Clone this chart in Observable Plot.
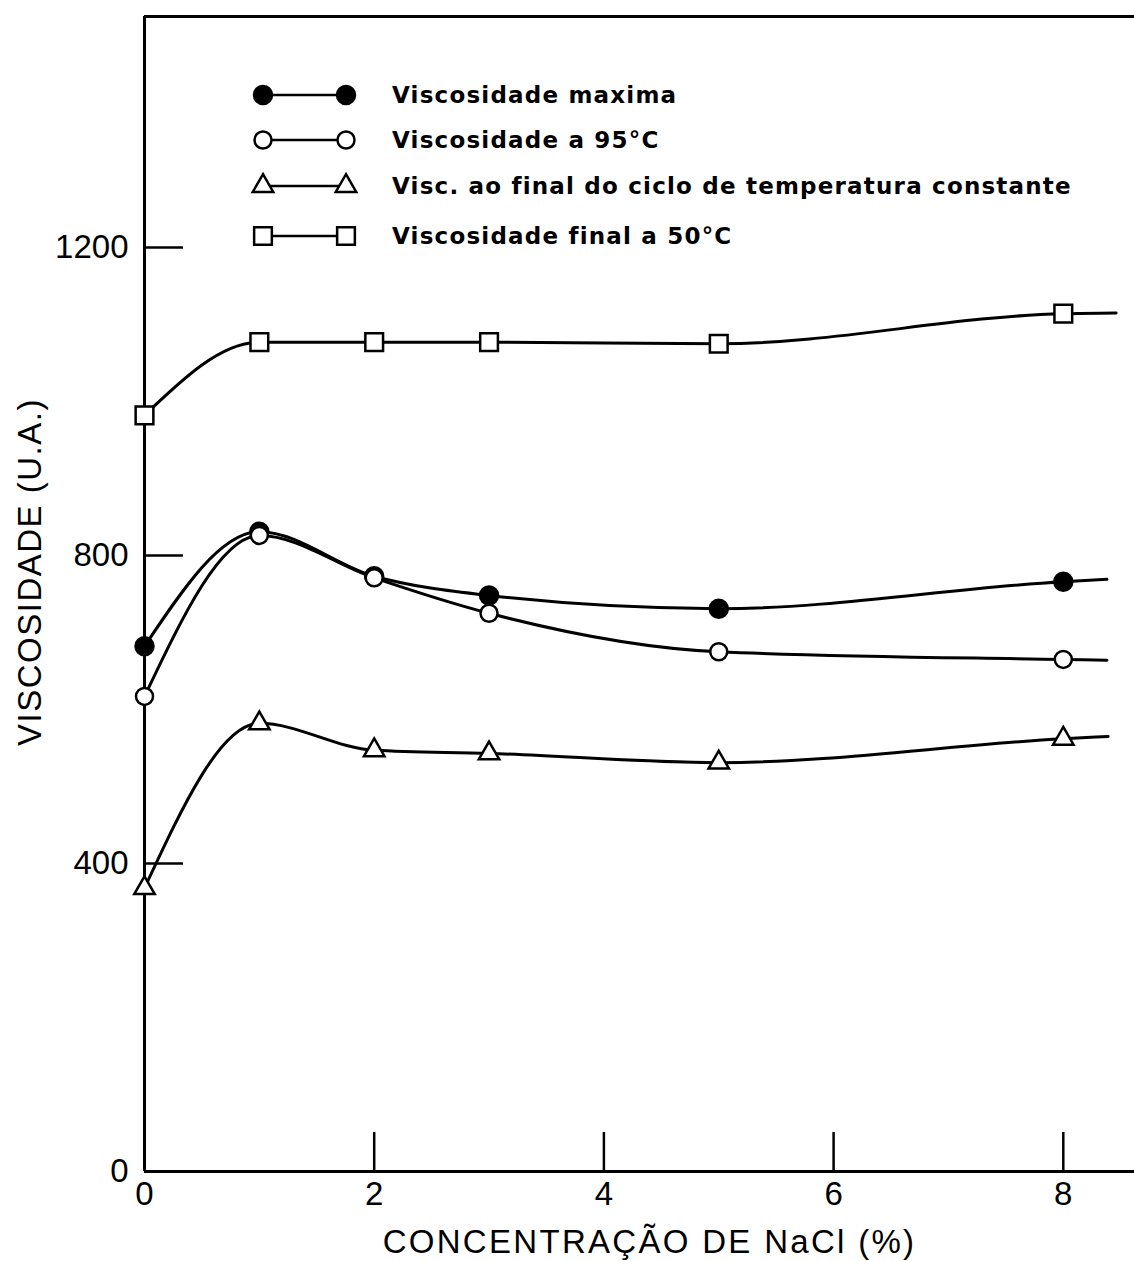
<!DOCTYPE html>
<html>
<head>
<meta charset="utf-8">
<script src="https://cdn.jsdelivr.net/npm/d3@7"></script>
<script src="https://cdn.jsdelivr.net/npm/@observablehq/plot@0.6"></script>
<style>
  html, body { margin: 0; padding: 0; background: #fff; }
  #chart { width: 1134px; height: 1261px; }
</style>
</head>
<body>
<div id="chart"></div>
<script>
// NaCl concentration (%) at which each viscosity was measured
const concentracao = [0, 1, 2, 3, 5, 8];

// Viscosity (U.A.) for each curve
const viscMaxima     = [682, 831, 773, 748, 731, 766];
const visc95         = [617, 826, 771, 725, 675, 665];
const viscFinalCiclo = [368, 582, 547, 543, 531, 562];
const viscFinal50    = [982, 1077, 1077, 1077, 1075, 1114];

// Each drawn curve runs on a little past the last measurement
const prolongX = [8.38, 8.38, 8.39, 8.46];
const prolongY = [769, 664, 565, 1115];

const nomes = [
  "Viscosidade maxima",
  "Viscosidade a 95°C",
  "Visc. ao final do ciclo de temperatura constante",
  "Viscosidade final a 50°C"
];

const xTicks = [0, 2, 4, 6, 8];
const yTicks = [0, 400, 800, 1200];
const xLabel = "CONCENTRAÇÃO DE NaCl (%)";
const yLabel = "VISCOSIDADE (U.A.)";

// Marker style of every curve
const simbolos = [
  {symbol: "circle",   fill: "black", r: 9},
  {symbol: "circle",   fill: "white", r: 8.5},
  {symbol: "triangle", fill: "white", r: 7.6},
  {symbol: "square",   fill: "white", r: 10}
];

const valores = [viscMaxima, visc95, viscFinalCiclo, viscFinal50];
const pontos = valores.flatMap((vals, s) =>
  vals.map((v, j) => ({serie: s, x: concentracao[j], y: v})));
const curvas = valores.flatMap((vals, s) => [
  ...vals.map((v, j) => ({serie: s, x: concentracao[j], y: v})),
  {serie: s, x: prolongX[s], y: prolongY[s]}
]);

const tickFont = "Liberation Sans, Arial, sans-serif";

const chart = Plot.plot({
  width: 1134,
  height: 1261,
  marginLeft: 144,
  marginRight: 0,
  marginTop: 16,
  marginBottom: 90,
  x: {domain: [0, 8.62]},
  y: {domain: [0, 1500]},
  style: {fontFamily: tickFont, color: "black", background: "white", overflow: "visible"},
  marks: [
    // frame lines: bottom, top and left
    Plot.ruleY([0, 1500], {stroke: "black", strokeWidth: 3}),
    Plot.ruleX([0], {stroke: "black", strokeWidth: 3}),
    // inward tick marks
    Plot.ruleX(xTicks.slice(1), {y1: 0, y2: 0, insetBottom: 39, stroke: "black", strokeWidth: 2.5}),
    Plot.ruleY(yTicks.slice(1), {x1: 0, x2: 0, insetRight: -39, stroke: "black", strokeWidth: 2.5}),
    // tick labels
    Plot.axisX(xTicks, {tickSize: 0, tickPadding: 10, fontSize: 33, label: null, tickFormat: d3.format("d")}),
    Plot.axisY(yTicks, {tickSize: 0, tickPadding: 16, fontSize: 33, label: null, tickFormat: d3.format("d")}),
    // axis titles
    Plot.text([xLabel], {
      text: d => d, frameAnchor: "bottom", lineAnchor: "bottom", textAnchor: "middle",
      dx: 10, dy: 81, fontSize: 33, fill: "black", fontFamily: tickFont
    }),
    Plot.text([yLabel], {
      text: d => d, frameAnchor: "left", textAnchor: "middle", rotate: -90,
      dx: -114, dy: -22, fontSize: 33, fill: "black", fontFamily: tickFont
    }),
    // curves
    Plot.line(curvas, {
      x: "x", y: "y", z: "serie", curve: "monotone-x",
      stroke: "black", strokeWidth: 3
    }),
    // measured points
    ...simbolos.map((s, i) => Plot.dot(pontos.filter(d => d.serie === i), {
      x: "x", y: "y", symbol: s.symbol, r: s.r,
      fill: s.fill, stroke: "black", strokeWidth: 2.5
    }))
  ]
});

document.getElementById("chart").appendChild(chart);

const svg = d3.select(chart);
// wider tracking on the axis titles
svg.selectAll("text")
  .filter(function () { return this.textContent === xLabel; })
  .style("letter-spacing", "2.3px");
svg.selectAll("text")
  .filter(function () { return this.textContent === yLabel; })
  .style("letter-spacing", "1.5px");

// Legend inside the plotting area, top left
const legenda = svg.append("g").attr("class", "legenda").attr("text-anchor", "start");
const linhas = [95, 140, 186, 236];
const symbolTypes = {circle: d3.symbolCircle, triangle: d3.symbolTriangle, square: d3.symbolSquare};
nomes.forEach((nome, i) => {
  const y = linhas[i];
  const g = legenda.append("g").attr("transform", `translate(0,${y})`);
  g.append("line").attr("x1", 263).attr("x2", 346).attr("y1", 0).attr("y2", 0)
    .attr("stroke", "black").attr("stroke-width", 2.5);
  const s = simbolos[i];
  const path = d3.symbol().type(symbolTypes[s.symbol]).size(Math.PI * s.r * s.r)();
  [263, 346].forEach(x => {
    g.append("path").attr("d", path).attr("transform", `translate(${x},0)`)
      .attr("fill", s.fill).attr("stroke", "black").attr("stroke-width", 2.5);
  });
  g.append("text").attr("x", 392).attr("y", 0).attr("dy", "0.36em")
    .attr("text-anchor", "start")
    .attr("font-family", "DejaVu Sans, sans-serif").attr("font-size", 23)
    .attr("font-weight", "bold")
    .style("letter-spacing", "1.2px").attr("fill", "black")
    .text(nome);
});
</script>
</body>
</html>
